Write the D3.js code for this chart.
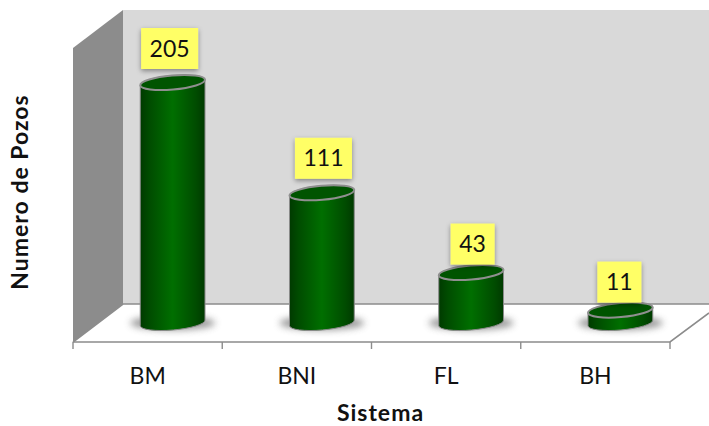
<!DOCTYPE html>
<html>
<head>
<meta charset="utf-8">
<style>
html,body{margin:0;padding:0;background:#fff;}
svg{display:block;}
text{font-family:Lato,"Open Sans",sans-serif;fill:#111;}
</style>
<script src="https://cdn.jsdelivr.net/npm/d3@7"></script>
</head>
<body>
<svg id="chart" width="709" height="426"></svg>
<script>
const categories = ["BM", "BNI", "FL", "BH"];
const values = [205, 111, 43, 11];
const xTitle = "Sistema";
const yTitle = "Numero de Pozos";

const svg = d3.select("#chart");
const defs = svg.append("defs");

// Plot box: front edge of the floor plus the depth of the 3D projection.
const front = {x0: 73, x1: 670, y: 342, top: 48};
const depth = {dx: 50, dy: -38};
const rx = 32.5, ry = 7, tilt = -5;
const tiltRad = tilt * Math.PI / 180;
const endX = rx * Math.cos(tiltRad), endY = rx * Math.sin(-tiltRad);

const x = d3.scaleBand().domain(categories).range([front.x0, front.x1]);
const y = d3.scaleLinear().domain([0, 205]).range([323, 82.5]);
const cx = c => x(c) + x.bandwidth() / 2 + depth.dx / 2;

// Gradients and blurs
const side = defs.append("linearGradient").attr("id", "cyl");
[[0, "#003a00"], [0.14, "#004c00"], [0.5, "#006f00"], [0.86, "#004c00"], [1, "#003a00"]]
  .forEach(([o, c]) => side.append("stop").attr("offset", o).attr("stop-color", c));
defs.append("filter").attr("id", "floorShadow")
  .attr("x", "-30%").attr("y", "-100%").attr("width", "160%").attr("height", "300%")
  .append("feGaussianBlur").attr("stdDeviation", 3.5);
const boxShadow = defs.append("filter").attr("id", "boxShadow")
  .attr("x", "-30%").attr("y", "-30%").attr("width", "160%").attr("height", "160%");
boxShadow.append("feDropShadow").attr("dx", 0).attr("dy", 2).attr("stdDeviation", 2.5)
  .attr("flood-color", "#000").attr("flood-opacity", 0.4);

// Walls and floor
const line = d3.line();
const backX0 = front.x0 + depth.dx;
const backBottom = front.y + depth.dy;
const backTop = front.top + depth.dy;
svg.append("rect").attr("x", backX0).attr("y", backTop)
  .attr("width", 709 - backX0).attr("height", backBottom - backTop).attr("fill", "#d9d9d9");
svg.append("path").attr("fill", "#8c8c8c")
  .attr("d", line([[front.x0, front.top], [backX0, backTop], [backX0, backBottom], [front.x0, front.y]]) + "Z");
svg.append("path").attr("fill", "#fff")
  .attr("d", line([[front.x0, front.y], [backX0, backBottom], [709, backBottom], [709, 313], [front.x1, front.y]]) + "Z");
svg.append("path").attr("fill", "none").attr("stroke", "#8c8c8c").attr("stroke-width", 1.6)
  .attr("d", line([[front.x0, front.y], [backX0, backBottom], [709, backBottom]]));
svg.append("path").attr("fill", "none").attr("stroke", "#8c8c8c").attr("stroke-width", 1.6)
  .attr("d", line([[front.x0, front.y], [front.x1, front.y], [709, 313]]));

// Category labels on the axis, tick marks between the bands
const axis = svg.append("g").attr("transform", `translate(0,${front.y})`)
  .call(d3.axisBottom(x).tickSize(0).tickPadding(25.5));
axis.select(".domain").remove();
axis.selectAll("text").style("font-size", "23px").style("font-family", "Lato,sans-serif").attr("fill", "#111");
const edges = categories.map(c => x(c)).concat(front.x1);
svg.selectAll(".edge").data(edges).join("line").attr("class", "edge")
  .attr("x1", d => d).attr("x2", d => d)
  .attr("y1", front.y).attr("y2", front.y + 7)
  .attr("stroke", "#8c8c8c").attr("stroke-width", 1.4);

// Cylinders
const bars = svg.selectAll(".bar").data(categories.map((c, i) => ({c, v: values[i], i}))).join("g").attr("class", "bar");
bars.append("ellipse").attr("cx", d => cx(d.c)).attr("cy", y(0)).attr("rx", rx + 10).attr("ry", ry)
  .attr("fill", "#555").attr("opacity", 0.6).attr("filter", "url(#floorShadow)");
bars.append("path").attr("fill", "url(#cyl)").attr("stroke", "#8a8a8a").attr("stroke-width", 1)
  .attr("d", d => {
    const l = cx(d.c) - endX, r = cx(d.c) + endX;
    const t = y(d.v), b = y(0);
    return `M${l},${t + endY}L${l},${b + endY}A${rx},${ry} ${tilt} 0 0 ${r},${b - endY}L${r},${t - endY}A${rx},${ry} ${tilt} 0 0 ${l},${t + endY}Z`;
  });
bars.append("ellipse").attr("cx", 0).attr("cy", 0).attr("rx", rx).attr("ry", ry)
  .attr("transform", d => `translate(${cx(d.c)},${y(d.v)}) rotate(${tilt})`)
  .attr("fill", "#005400").attr("stroke", "#8f8f8f").attr("stroke-width", 2);

// Value callouts, each hand-placed relative to the top of its cylinder
const calloutShift = [[-3, 13.5], [1.6, 14], [1.5, 8], [-1, 7.5]];
const labelW = d => d.v >= 100 ? 57 : 44;
const labelH = 41;
const labelX = d => cx(d.c) + calloutShift[d.i][0];
const labelBottom = d => y(d.v) - calloutShift[d.i][1];
bars.append("rect")
  .attr("x", d => labelX(d) - labelW(d) / 2)
  .attr("y", d => labelBottom(d) - labelH)
  .attr("width", labelW).attr("height", labelH)
  .attr("fill", "#ffff66").attr("filter", "url(#boxShadow)");
bars.append("text")
  .attr("x", labelX)
  .attr("y", d => labelBottom(d) - labelH / 2 + 8)
  .attr("text-anchor", "middle").style("font-size", "23px")
  .text(d => d.v);

// Axis titles
svg.append("text").attr("x", 380.5).attr("y", 421).attr("text-anchor", "middle")
  .style("font-size", "23px").style("font-weight", 700).style("letter-spacing", "1px").text(xTitle);
svg.append("text").attr("transform", "translate(28,192) rotate(-90)").attr("text-anchor", "middle")
  .style("font-size", "23px").style("font-weight", 700).style("letter-spacing", "1px").text(yTitle);
</script>
</body>
</html>
